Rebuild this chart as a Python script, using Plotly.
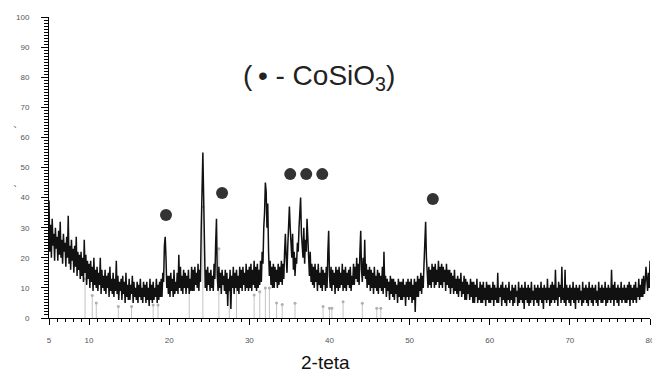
import numpy as np
import plotly.graph_objects as go

# Hand-read intensities, one value every 0.1 degree 2-theta (5.0 .. 80.0)
intensity = [
    39, 22, 31, 20, 33, 24, 28, 19, 30, 23,   # 5
    27, 19, 29, 21, 32, 20, 26, 18, 28, 22,   # 6
    25, 17, 27, 20, 34, 18, 24, 16, 26, 19,   # 7
    23, 15, 24, 17, 27, 14, 22, 16, 21, 13,   # 8
    22, 14, 20, 12, 26, 15, 21, 11, 19, 13,   # 9
    18, 10, 19, 12, 17, 9, 20, 11, 16, 10,    # 10
    17, 9, 15, 11, 20, 8, 16, 10, 14, 9,      # 11
    16, 8, 14, 10, 15, 7, 17, 9, 13, 8,       # 12
    15, 7, 13, 9, 19, 8, 14, 6, 12, 9,        # 13
    13, 6, 14, 8, 12, 5, 15, 7, 11, 6,        # 14
    13, 6, 11, 8, 14, 5, 12, 7, 10, 6,        # 15
    12, 5, 11, 7, 13, 6, 10, 5, 12, 7,        # 16
    11, 5, 12, 6, 10, 4, 13, 6, 11, 5,        # 17
    12, 6, 10, 7, 13, 5, 11, 6, 12, 7,        # 18
    13, 7, 15, 12, 24, 27, 20, 10, 14, 8,     # 19
    14, 7, 15, 9, 13, 7, 16, 8, 12, 9,        # 20
    15, 8, 21, 10, 17, 9, 14, 8, 16, 10,      # 21
    15, 8, 14, 10, 16, 8, 13, 9, 17, 9,       # 22
    16, 9, 17, 11, 15, 10, 18, 9, 16, 12,     # 23
    30, 45, 55, 40, 22, 10, 16, 9, 17, 11,    # 24
    15, 9, 16, 10, 14, 9, 18, 13, 25, 33,     # 25
    14, 9, 17, 10, 15, 8, 16, 11, 14, 9,      # 26
    16, 8, 15, 4, 13, 9, 16, 3, 14, 10,       # 27
    17, 8, 15, 10, 16, 9, 14, 8, 17, 10,      # 28
    16, 9, 17, 11, 15, 9, 18, 10, 16, 9,      # 29
    17, 10, 18, 9, 16, 11, 19, 10, 17, 9,     # 30
    18, 10, 16, 11, 19, 12, 22, 18, 30, 35,   # 31
    45, 42, 30, 38, 22, 14, 19, 11, 17, 10,   # 32
    18, 10, 17, 12, 16, 10, 18, 11, 17, 12,   # 33
    19, 11, 18, 13, 22, 28, 20, 15, 24, 30,   # 34
    37, 30, 25, 20, 28, 16, 22, 14, 20, 18,   # 35
    25, 22, 30, 35, 40, 28, 24, 20, 30, 18,   # 36
    26, 22, 33, 27, 20, 14, 22, 12, 18, 11,   # 37
    17, 10, 18, 12, 16, 9, 18, 11, 15, 10,    # 38
    17, 9, 16, 11, 15, 9, 17, 10, 22, 29,     # 39
    14, 10, 17, 9, 16, 11, 15, 8, 17, 10,     # 40
    16, 9, 17, 10, 15, 11, 18, 9, 16, 10,     # 41
    17, 9, 15, 11, 16, 10, 17, 9, 14, 11,     # 42
    18, 11, 17, 13, 20, 12, 18, 11, 22, 29,   # 43
    16, 12, 20, 14, 26, 13, 18, 10, 16, 11,   # 44
    17, 9, 16, 10, 15, 8, 17, 10, 14, 9,      # 45
    16, 8, 15, 10, 14, 9, 17, 8, 22, 10,      # 46
    14, 7, 13, 9, 12, 6, 14, 8, 13, 7,        # 47
    13, 6, 12, 8, 11, 5, 13, 7, 12, 6,        # 48
    12, 6, 13, 7, 11, 4, 12, 7, 13, 6,        # 49
    12, 7, 13, 5, 11, 6, 13, 2, 12, 7,        # 50
    14, 7, 13, 9, 15, 8, 14, 10, 18, 25,      # 51
    32, 20, 13, 10, 17, 11, 16, 10, 18, 12,   # 52
    17, 10, 18, 11, 16, 12, 19, 10, 17, 11,   # 53
    18, 10, 17, 12, 16, 9, 18, 11, 16, 10,    # 54
    16, 8, 15, 10, 14, 8, 16, 9, 13, 8,       # 55
    14, 7, 13, 9, 15, 7, 12, 8, 14, 6,        # 56
    13, 6, 12, 8, 11, 6, 13, 7, 12, 5,        # 57
    12, 5, 11, 7, 13, 5, 10, 6, 12, 5,        # 58
    11, 5, 12, 6, 10, 4, 12, 6, 11, 5,        # 59
    11, 5, 10, 6, 12, 4, 11, 6, 10, 5,        # 60
    15, 5, 10, 7, 11, 4, 12, 6, 10, 5,        # 61
    11, 4, 10, 6, 12, 5, 9, 6, 11, 4,         # 62
    10, 5, 11, 7, 9, 4, 12, 5, 10, 6,         # 63
    11, 5, 10, 3, 12, 6, 10, 5, 11, 4,        # 64
    10, 5, 12, 6, 9, 4, 11, 6, 10, 5,         # 65
    11, 4, 10, 6, 12, 5, 10, 3, 11, 6,        # 66
    10, 5, 13, 6, 10, 4, 11, 5, 12, 6,        # 67
    11, 5, 16, 6, 10, 4, 12, 7, 11, 5,        # 68
    17, 6, 10, 5, 16, 4, 11, 6, 10, 5,        # 69
    11, 4, 10, 6, 12, 5, 10, 3, 11, 6,        # 70
    10, 5, 11, 6, 9, 4, 12, 5, 10, 6,         # 71
    11, 5, 10, 4, 12, 6, 10, 5, 11, 4,        # 72
    10, 6, 11, 5, 9, 4, 12, 6, 10, 5,         # 73
    11, 5, 10, 6, 12, 4, 10, 5, 11, 6,        # 74
    10, 5, 16, 6, 11, 4, 12, 6, 10, 5,        # 75
    11, 4, 10, 6, 12, 5, 10, 6, 11, 5,        # 76
    10, 5, 11, 6, 12, 4, 11, 6, 10, 5,        # 77
    11, 6, 12, 5, 10, 7, 13, 6, 11, 7,        # 78
    13, 7, 14, 8, 12, 17, 13, 9, 15, 10,      # 79
    19,                                       # 80.0
]
two_theta = np.round(np.linspace(5.0, 80.0, 751), 1)

# Reference pattern sticks (2-theta, intensity)
ref_pos = [9.5, 10.4, 10.9, 13.65, 15.3, 18.0, 18.6, 22.5, 24.2, 26.2, 27.5, 28.4,
           30.6, 31.3, 32.0, 32.5, 33.4, 34.1, 35.7, 39.2, 40.0, 40.3, 41.7, 44.1, 45.9, 46.4]
ref_int = [13, 7.5, 5, 3.8, 3.8, 4.3, 4.3, 10, 37, 23, 9, 11,
           7.6, 8.7, 10, 10, 5, 4.5, 4.9, 3.8, 3.2, 3.2, 5.4, 4.9, 3.2, 3.2]

# CoSiO3 peak markers
marker_pos = [19.6, 26.6, 35.1, 37.1, 39.1, 52.9]
marker_int = [34.2, 41.5, 47.8, 47.8, 47.8, 39.5]

x_ticks = [5, 10, 20, 30, 40, 50, 60, 70, 80]
y_ticks = [0, 10, 20, 30, 40, 50, 60, 70, 80, 90, 100]

stick_x, stick_y = [], []
for p, v in zip(ref_pos, ref_int):
    stick_x += [p, p, None]
    stick_y += [0, v, None]

fig = go.Figure()
fig.add_trace(go.Scatter(x=stick_x, y=stick_y, mode="lines",
                         line=dict(color="#c4c4c4", width=1), hoverinfo="skip"))
fig.add_trace(go.Scatter(x=ref_pos, y=ref_int, mode="markers",
                         marker=dict(symbol="circle", size=3, color="#b0b0b0"), hoverinfo="skip"))
fig.add_trace(go.Scatter(x=two_theta, y=intensity[:len(two_theta)], mode="lines",
                         line=dict(color="#111111", width=1.5)))
fig.add_trace(go.Scatter(x=marker_pos, y=marker_int, mode="markers",
                         marker=dict(symbol="circle", size=12, color="#333333")))

axis_font = dict(family="Liberation Sans, Arial, sans-serif", size=8, color="#555555")

fig.update_layout(
    width=652, height=384,
    margin=dict(l=49, r=2, t=17, b=66),
    paper_bgcolor="white", plot_bgcolor="white",
    showlegend=False,
    font=dict(family="Liberation Sans, Arial, sans-serif"),
    xaxis=dict(range=[5, 80], tickvals=x_ticks, ticktext=[str(v) for v in x_ticks],
               automargin=False, ticklabeloverflow="allow",
               showgrid=False, zeroline=False, showline=True, linecolor="black", linewidth=1,
               ticks="outside", ticklen=6, tickcolor="black", tickfont=axis_font,
               ticklabelstandoff=8,
               minor=dict(dtick=1, tick0=0, ticks="outside", ticklen=3, tickcolor="black")),
    yaxis=dict(range=[0, 100], tickvals=y_ticks, showgrid=False, zeroline=False,
               automargin=False,
               showline=True, linecolor="black", linewidth=1,
               ticks="outside", ticklen=7, tickcolor="black", tickfont=axis_font,
               ticklabelstandoff=10,
               minor=dict(dtick=1, tick0=0, ticks="outside", ticklen=4, tickcolor="black")),
    annotations=[
        dict(text="(\u2009• - CoSiO<sub>3</sub>)", x=38.7, y=80.0, xref="x", yref="y",
             showarrow=False, font=dict(size=28, color="#222222",
                                        family="Liberation Sans, Arial, sans-serif")),
        dict(text="2-teta", x=(325 - 49) / 601, y=-0.19, xref="paper", yref="paper",
             showarrow=False, font=dict(size=19, color="#111111",
                                        family="Liberation Sans, Arial, sans-serif")),
        dict(text="ˎ", x=-0.064, y=0.65, xref="paper", yref="paper", showarrow=False,
             font=dict(size=10, color="#555555", family="DejaVu Sans")),
        dict(text="ˎ", x=-0.064, y=0.455, xref="paper", yref="paper", showarrow=False,
             font=dict(size=10, color="#555555", family="DejaVu Sans")),
    ],
)

fig.write_html("out.html", config={"displayModeBar": False},
               post_script="document.body.style.margin='0px';")
